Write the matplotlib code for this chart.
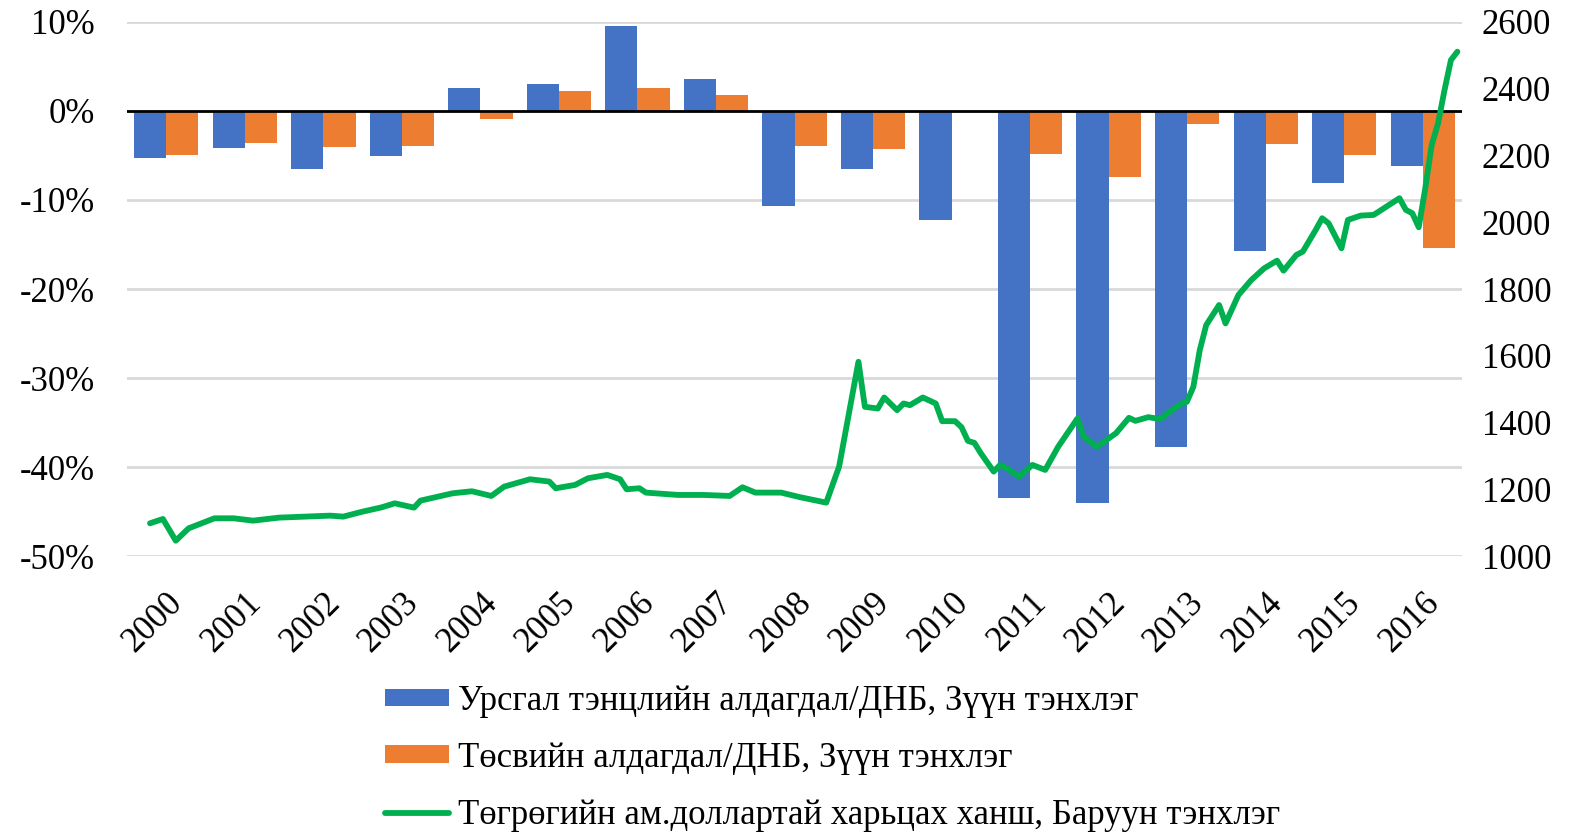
import numpy as np
import pandas as pd
import matplotlib
matplotlib.use('Agg')
import matplotlib.pyplot as plt

plt.rcParams['font.family'] = ['Liberation Serif', 'DejaVu Serif']

# years on the category axis
years = [str(y) for y in range(2000, 2017)]

# current account balance / GDP, % (left axis)
current_acc = [-5.3, -4.2, -6.5, -5.1, 2.6, 3.0, 9.5, 3.6, -10.7, -6.5,
               -12.3, -43.5, -44.0, -37.7, -15.7, -8.1, -6.2]
# budget balance / GDP, % (left axis)
budget = [-5.0, -3.6, -4.0, -3.9, -0.9, 2.3, 2.6, 1.8, -3.9, -4.3,
          0.0, -4.8, -7.4, -1.5, -3.7, -5.0, -15.4]

# MNT per USD (right axis)
rate_dates = ['2000-01', '2000-03', '2000-05', '2000-07', '2000-11', '2001-02', '2001-05',
              '2001-09', '2002-05', '2002-07', '2002-10', '2003-01', '2003-03', '2003-06',
              '2003-07', '2003-12', '2004-03', '2004-06', '2004-08', '2004-12', '2005-03',
              '2005-04', '2005-07', '2005-09', '2005-12', '2006-02', '2006-03', '2006-05',
              '2006-06', '2006-11', '2007-03', '2007-07', '2007-09', '2007-11', '2008-03',
              '2008-06', '2008-10', '2008-12', '2009-03', '2009-04', '2009-06', '2009-07',
              '2009-09', '2009-10', '2009-11', '2010-01', '2010-03', '2010-04', '2010-06',
              '2010-07', '2010-08', '2010-09', '2010-10', '2010-12', '2011-01', '2011-02',
              '2011-04', '2011-06', '2011-08', '2011-10', '2012-01', '2012-02', '2012-04',
              '2012-07', '2012-09', '2012-10', '2012-12', '2013-02', '2013-03', '2013-05',
              '2013-06', '2013-07', '2013-08', '2013-09', '2013-11', '2013-12', '2014-02',
              '2014-04', '2014-06', '2014-08', '2014-09', '2014-11', '2014-12', '2015-02',
              '2015-03', '2015-04', '2015-06', '2015-07', '2015-09', '2015-11', '2016-01',
              '2016-03', '2016-04', '2016-05', '2016-06', '2016-07', '2016-08', '2016-09',
              '2016-10', '2016-11', '2016-12']
rate = [1098, 1111, 1046, 1083, 1113, 1113, 1106,
        1115, 1121, 1118, 1133, 1146, 1158, 1145,
        1166, 1188, 1194, 1180, 1208, 1230, 1223,
        1203, 1213, 1233, 1243, 1230, 1200, 1203,
        1190, 1183, 1183, 1180, 1206, 1190, 1190,
        1176, 1160, 1268, 1582, 1447, 1442, 1475,
        1437, 1457, 1452, 1475, 1457, 1404, 1404,
        1386, 1345, 1339, 1308, 1253, 1273, 1263,
        1238, 1273, 1258, 1327, 1412, 1357, 1327,
        1368, 1414, 1405, 1416, 1410, 1428, 1455,
        1462, 1507, 1617, 1692, 1752, 1697, 1782,
        1827, 1862, 1885, 1855, 1902, 1912, 1977,
        2012, 1997, 1922, 2007, 2020, 2022, 2047,
        2072, 2037, 2027, 1985, 2100, 2231, 2296,
        2396, 2486, 2511]

labels = ['Урсгал тэнцлийн алдагдал/ДНБ, Зүүн тэнхлэг',
          'Төсвийн алдагдал/ДНБ, Зүүн тэнхлэг',
          'Төгрөгийн ам.доллартай харьцах ханш, Баруун тэнхлэг']

blue = '#4472C4'
orange = '#ED7D31'
green = '#00B050'
fs = 25

fig = plt.figure(figsize=(15.74, 8.36), dpi=100)
ax = fig.add_axes([0.0807, 0.3349, 0.8482, 0.6388])

x = np.arange(len(years))
w = 0.41
b1 = ax.bar(x - w / 2, current_acc, w, color=blue, label=labels[0], zorder=2)
b2 = ax.bar(x + w / 2, budget, w, color=orange, label=labels[1], zorder=2)
ax.axhline(0, color='black', lw=2, zorder=3)

ax.set_xlim(-0.5, len(years) - 0.5)
ax.set_ylim(-50, 10)
ax.set_yticks(np.arange(-50, 11, 10))
ax.set_yticklabels([f'{v}%' for v in range(-50, 11, 10)])
ax.grid(axis='y', color='#d9d9d9', lw=2, zorder=0)
ax.set_axisbelow(True)
ax.set_xticks(x)
ax.set_xticklabels(years, rotation=45, ha='right', rotation_mode='anchor')
ax.tick_params(axis='x', length=0, pad=22, labelsize=fs)
ax.tick_params(axis='y', length=0, pad=23, labelsize=fs)
for s in ax.spines.values():
    s.set_visible(False)

# right axis for exchange rate, own hidden date axis
ax2 = ax.twinx()
ax2.set_ylim(1000, 2600)
ax2.set_yticks(np.arange(1000, 2601, 200))
ax2.tick_params(axis='y', length=0, pad=14, labelsize=fs)
for s in ax2.spines.values():
    s.set_visible(False)

ax3 = ax2.twiny()
d = pd.to_datetime(rate_dates)
months = (d.year - 2000) * 12 + d.month - 1
ln, = ax3.plot(months, rate, color=green, lw=4.2, solid_capstyle='round',
               solid_joinstyle='round', label=labels[2], zorder=4)
ax3.set_xlim(-3.57, 203.73)
ax3.set_xticks([])
for s in ax3.spines.values():
    s.set_visible(False)

fig.legend([b1, b2, ln], labels, loc='upper left', bbox_to_anchor=(0.2443, 0.181),
           frameon=False, fontsize=fs, handlelength=1.87, handleheight=0.4,
           handletextpad=0.25, labelspacing=0.69, borderpad=0, borderaxespad=0)

fig.savefig('out.png', dpi=100)
